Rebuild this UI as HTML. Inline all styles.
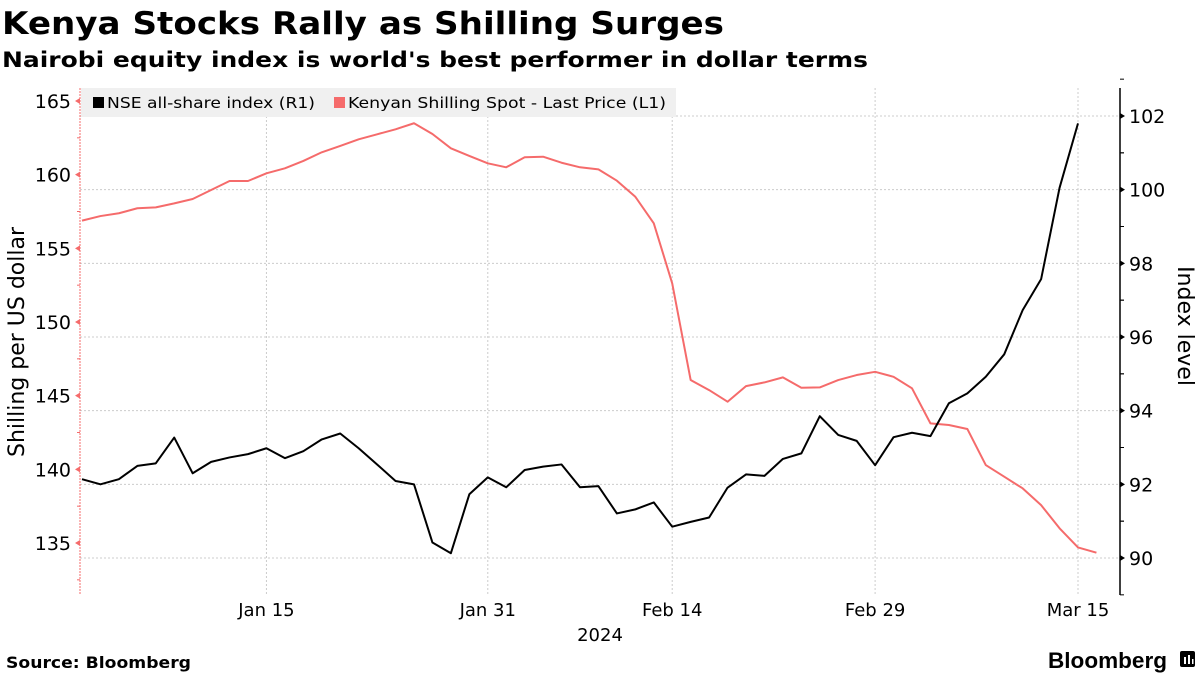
<!DOCTYPE html>
<html><head><meta charset="utf-8"><style>
html,body{margin:0;padding:0;background:#fff;}
svg{display:block;font-family:"DejaVu Sans","Liberation Sans",sans-serif;}
</style></head><body>
<svg id="chart" width="1200" height="675" viewBox="0 0 1200 675">
<text x="2" y="34" font-size="31" font-weight="bold" textLength="722" lengthAdjust="spacingAndGlyphs">Kenya Stocks Rally as Shilling Surges</text>
<text x="2" y="67" font-size="21" font-weight="bold" textLength="866" lengthAdjust="spacingAndGlyphs">Nairobi equity index is world's best performer in dollar terms</text>
<g id="grid"></g>
<rect x="81" y="88" width="595" height="29" fill="#f0f0f0"/>
<g><rect x="93" y="97" width="11" height="11" fill="#000"/><text x="107" y="108" font-size="15.5" textLength="208" lengthAdjust="spacingAndGlyphs">NSE all-share index (R1)</text></g>
<g><rect x="334" y="97" width="11" height="11" fill="#f56b6b"/><text x="348" y="108" font-size="15.5" textLength="318" lengthAdjust="spacingAndGlyphs">Kenyan Shilling Spot - Last Price (L1)</text></g>
<g id="axes"></g>
<g id="series"></g>
<text transform="translate(24,342) rotate(-90)" text-anchor="middle" font-size="22">Shilling per US dollar</text>
<text transform="translate(1178,326) rotate(90)" text-anchor="middle" font-size="22">Index level</text>
<text x="600" y="641" text-anchor="middle" font-size="18">2024</text>
<text x="6" y="668" font-size="16" font-weight="bold" textLength="185" lengthAdjust="spacingAndGlyphs">Source: Bloomberg</text>
<text x="1167" y="668" text-anchor="end" font-size="22" font-weight="bold" font-family="Liberation Sans, sans-serif" textLength="119" lengthAdjust="spacingAndGlyphs">Bloomberg</text>
<g><rect x="1180" y="651" width="15" height="16" rx="2" fill="#000"/><rect x="1184" y="657" width="2" height="7" fill="#fff"/><rect x="1188" y="655" width="2" height="9" fill="#fff"/><rect x="1192" y="659" width="1.5" height="5" fill="#fff"/></g>
</svg>
<script>
const nse = [92.14,92.00,92.14,92.50,92.57,93.27,92.30,92.61,92.73,92.82,92.98,92.71,92.90,93.22,93.38,92.98,92.54,92.09,92.00,90.42,90.13,91.73,92.19,91.92,92.39,92.48,92.54,91.92,91.95,91.21,91.32,91.51,90.85,90.98,91.10,91.91,92.27,92.23,92.69,92.84,93.85,93.34,93.18,92.52,93.28,93.40,93.31,94.20,94.47,94.92,95.53,96.73,97.57,100.05,101.80];
const shilling = [156.88,157.19,157.38,157.72,157.78,158.05,158.35,158.96,159.57,159.57,160.09,160.43,160.93,161.52,161.95,162.40,162.74,163.08,163.49,162.76,161.79,161.27,160.77,160.50,161.18,161.22,160.81,160.50,160.36,159.59,158.50,156.70,152.62,146.06,145.38,144.59,145.65,145.90,146.24,145.54,145.56,146.06,146.40,146.62,146.28,145.50,143.12,143.01,142.74,140.29,139.50,138.71,137.57,136.00,134.70,134.34];
const xTickLabels = ["Jan 15","Jan 31","Feb 14","Feb 29","Mar 15"];
const xTickIndex = [10,22,32,43,54];
const leftTicks = [135,140,145,150,155,160,165];
const rightTicks = [90,92,94,96,98,100,102];

const NS='http://www.w3.org/2000/svg';
const X0=82, STEP=(1078-82)/54, TOP=88, BOT=595, LEFT=80, RIGHT=1120;
const xPos = i => X0 + i*STEP;
const yL = v => 101 + (165-v)*(543-101)/30;
const yR = v => 116 + (102-v)*(558-116)/12;
function mk(tag, attrs, parent){const e=document.createElementNS(NS,tag);for(const k in attrs)e.setAttribute(k,attrs[k]);parent.appendChild(e);return e;}
const grid=document.getElementById('grid'), axes=document.getElementById('axes'), series=document.getElementById('series');

rightTicks.forEach(v=>{
  const l=mk('line',{x1:LEFT,x2:RIGHT,y1:yR(v),y2:yR(v),stroke:'#ccc','stroke-dasharray':'2,2','stroke-width':1},grid);
  
  
});
xTickIndex.forEach((ix,k)=>{
  const l=mk('line',{x1:xPos(ix),x2:xPos(ix),y1:TOP,y2:BOT,stroke:'#ccc','stroke-dasharray':'2,2','stroke-width':1},grid);
  
  
  const t=mk('text',{x:xPos(ix),y:616,'text-anchor':'middle','font-size':18},axes);
  t.textContent=xTickLabels[k];
  
  
});
const la=mk('line',{x1:LEFT,x2:LEFT,y1:TOP,y2:BOT,stroke:'#f56b6b','stroke-dasharray':'2,1','stroke-width':1},axes);


const ra=mk('line',{x1:RIGHT,x2:RIGHT,y1:TOP,y2:BOT,stroke:'#000','stroke-width':1.5},axes);


leftTicks.forEach(v=>{
  const y=yL(v);
  const p=mk('path',{d:`M${LEFT} ${y-3}L${LEFT-5} ${y}L${LEFT} ${y+3}Z`,fill:'#f56b6b'},axes);
  
  
  const m=mk('line',{x1:LEFT-3,x2:LEFT,y1:yL(v-2.5),y2:yL(v-2.5),stroke:'#f56b6b'},axes);
  
  
  const t=mk('text',{x:LEFT-9,y:y+7,'text-anchor':'end','font-size':19},axes);
  t.textContent=v;
  
  
});
rightTicks.forEach(v=>{
  const y=yR(v);
  const p=mk('path',{d:`M${RIGHT} ${y-3}L${RIGHT+5} ${y}L${RIGHT} ${y+3}Z`,fill:'#000'},axes);
  
  
  [v-1,v+1].forEach(mv=>{
    const m=mk('line',{x1:RIGHT,x2:RIGHT+4,y1:yR(mv),y2:yR(mv),stroke:'#000'},axes);
    
    
  });
  const t=mk('text',{x:RIGHT+9,y:y+7,'font-size':19},axes);
  t.textContent=v;
  
  
});
const sp=mk('polyline',{points:shilling.map((v,i)=>xPos(i)+','+yL(v)).join(' '),fill:'none',stroke:'#f56b6b','stroke-width':2,'stroke-linejoin':'round'},series);


const np=mk('polyline',{points:nse.map((v,i)=>xPos(i)+','+yR(v)).join(' '),fill:'none',stroke:'#000','stroke-width':2,'stroke-linejoin':'round'},series);


</script>
</body></html>
